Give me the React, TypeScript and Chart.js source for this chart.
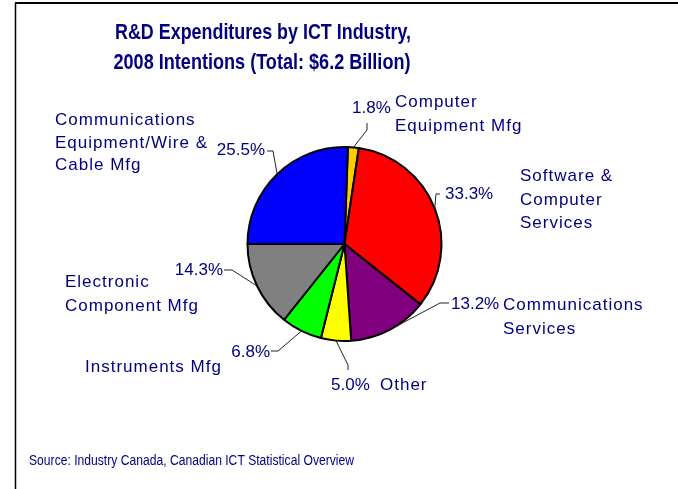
import React, { useEffect, useRef } from "react";
import { Chart, registerables } from "chart.js";

Chart.register(...registerables);

const titleLines = ["R&D Expenditures by ICT Industry,", "2008 Intentions (Total: $6.2 Billion)"];
const sourceText = "Source: Industry Canada, Canadian ICT Statistical Overview";

const categories = [
  "Computer Equipment Mfg",
  "Software & Computer Services",
  "Communications Services",
  "Other",
  "Instruments Mfg",
  "Electronic Component Mfg",
  "Communications Equipment/Wire & Cable Mfg",
];
const shares = [1.8, 33.3, 13.2, 5.0, 6.8, 14.3, 25.5];
const nameLines = [
  ["Computer", "Equipment Mfg"],
  ["Software &", "Computer", "Services"],
  ["Communications", "Services"],
  ["Other"],
  ["Instruments Mfg"],
  ["Electronic", "Component Mfg"],
  ["Communications", "Equipment/Wire &", "Cable Mfg"],
];
const sliceColors = ["#FFCC00", "#FF0000", "#800080", "#FFFF00", "#00FF00", "#808080", "#0000FF"];

// label layout (annotation placement only)
const labelLayout = [
  { pct: { x: 352, y: 113, align: "left" }, elbow: [[367, 123], [367, 130]], name: { x: 395, y: [106.5, 131] } },
  { pct: { x: 445, y: 199, align: "left" }, elbow: [[440, 194], [436, 194]], name: { x: 520, y: [181, 204.5, 228] } },
  { pct: { x: 451, y: 309, align: "left" }, elbow: [[449, 303], [440, 303]], name: { x: 503, y: [309.5, 334] } },
  { pct: { x: 331, y: 390, align: "left" }, elbow: [[348, 370], [348, 365]], name: { x: 380, y: [390] } },
  { pct: { x: 270, y: 357, align: "right" }, elbow: [[271, 351], [278, 351]], name: { x: 85, y: [372] } },
  { pct: { x: 223, y: 275, align: "right" }, elbow: [[224, 270], [232, 270]], name: { x: 65, y: [287, 311] } },
  { pct: { x: 265, y: 155, align: "right" }, elbow: [[267, 151], [273, 151]], name: { x: 55, y: [125, 147.5, 170] } },
];

const TEXT = "#000080";
const FONT = "'Liberation Sans', Arial, sans-serif";

function drawScaled(ctx: CanvasRenderingContext2D, text: string, x: number, y: number, targetW: number, align: "left" | "center") {
  const w = ctx.measureText(text).width;
  const sx = targetW / w;
  ctx.save();
  ctx.translate(x, y);
  ctx.scale(sx, 1);
  ctx.textAlign = align;
  ctx.fillText(text, 0, 0);
  ctx.restore();
}

const decorPlugin = {
  id: "decor",
  beforeDraw(chart: any) {
    const ctx = chart.ctx as CanvasRenderingContext2D;
    ctx.save();
    ctx.fillStyle = "#ffffff";
    ctx.fillRect(0, 0, chart.width, chart.height);
    ctx.strokeStyle = "#000000";
    ctx.lineWidth = 2;
    ctx.beginPath();
    ctx.moveTo(15, 3);
    ctx.lineTo(chart.width, 3);
    ctx.stroke();
    ctx.lineWidth = 1.5;
    ctx.beginPath();
    ctx.moveTo(15.5, 3);
    ctx.lineTo(15.5, chart.height);
    ctx.stroke();
    ctx.restore();
  },
  afterDraw(chart: any) {
    const ctx = chart.ctx as CanvasRenderingContext2D;
    ctx.save();
    ctx.fillStyle = TEXT;
    ctx.textBaseline = "alphabetic";
    // title
    ctx.font = `bold 22px ${FONT}`;
    drawScaled(ctx, titleLines[0], 263, 38.5, 296, "center");
    drawScaled(ctx, titleLines[1], 262, 68.5, 297, "center");
    // source
    ctx.font = `15.5px ${FONT}`;
    drawScaled(ctx, sourceText, 29, 465, 325, "left");

    const meta = chart.getDatasetMeta(0);
    meta.data.forEach((arc: any, i: number) => {
      const p = arc.getProps(["x", "y", "startAngle", "endAngle", "outerRadius"], true);
      const mid = (p.startAngle + p.endAngle) / 2;
      const ex = p.x + Math.cos(mid) * p.outerRadius;
      const ey = p.y + Math.sin(mid) * p.outerRadius;
      const L = labelLayout[i];
      // leader
      ctx.strokeStyle = "#222222";
      ctx.lineWidth = 1;
      ctx.beginPath();
      ctx.moveTo(L.elbow[0][0], L.elbow[0][1]);
      ctx.lineTo(L.elbow[1][0], L.elbow[1][1]);
      ctx.lineTo(ex, ey);
      ctx.stroke();
      // percent
      ctx.font = `17px ${FONT}`;
      (ctx as any).letterSpacing = "0px";
      ctx.textAlign = L.pct.align as CanvasTextAlign;
      ctx.fillText(shares[i].toFixed(1) + "%", L.pct.x, L.pct.y);
      // names
      (ctx as any).letterSpacing = "1px";
      ctx.textAlign = "left";
      nameLines[i].forEach((ln, j) => {
        ctx.fillText(ln, L.name.x, L.name.y[j]);
      });
      (ctx as any).letterSpacing = "0px";
    });
    ctx.restore();
  },
};

export default function App() {
  const ref = useRef<HTMLCanvasElement | null>(null);
  useEffect(() => {
    if (!ref.current) return;
    const chart = new Chart(ref.current, {
      type: "pie",
      data: {
        labels: categories,
        datasets: [
          {
            data: shares,
            backgroundColor: sliceColors,
            borderColor: "#000000",
            borderWidth: 2,
          },
        ],
      },
      options: {
        responsive: false,
        animation: false,
        rotation: 2,
        layout: { padding: { left: 246.5, right: 235.5, top: 146, bottom: 147 } },
        plugins: {
          legend: { display: false },
          tooltip: { enabled: false },
          title: { display: false },
        },
      },
      plugins: [decorPlugin],
    });
    return () => chart.destroy();
  }, []);
  return (
    <div style={{ position: "absolute", left: 0, top: 0, width: 678, height: 489 }}>
      <canvas ref={ref} width={678} height={489} style={{ width: 678, height: 489, display: "block" }} />
    </div>
  );
}
